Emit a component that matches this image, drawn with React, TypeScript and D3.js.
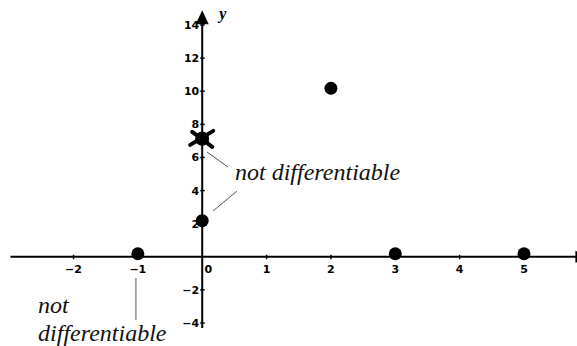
import React from "react";
import * as d3 from "d3";

const W = 577;
const H = 346;

// Data
const xTicks = [-2, -1, 1, 2, 3, 4, 5];
const yTicks = [-4, -2, 2, 4, 6, 8, 10, 12, 14];
const pointX = [-1, 0, 0, 2, 3, 5];
const pointY = [0, 2, 7, 10, 0, 0];
const crossedX = [0];
const crossedY = [7];

// Annotations (data units)
const noteLines = [
  { text: "not differentiable", x: 0.51, y: 4.64 },
  { text: "not", x: -2.55, y: -3.39 },
  { text: "differentiable", x: -2.55, y: -5.08 },
];
const leaders = [
  { x1: 0.075, y1: 6.33, x2: 0.4, y2: 5.42 },
  { x1: 0.17, y1: 2.77, x2: 0.54, y2: 3.97 },
  { x1: -1.03, y1: -1.28, x2: -1.03, y2: -3.82 },
];

export default function App() {
  const x = d3.scaleLinear().domain([-2, 5]).range([73.5, 524]);
  const y = d3.scaleLinear().domain([-4, 14]).range([323, 25]);
  const x0 = x(0);
  const y0 = y(0);
  const xMin = x(-2.98);
  const xMax = x(5.83);
  const yTop = y(14.1);
  const yBot = y(-4.3);

  const tickStyle = { fontFamily: '"DejaVu Sans", sans-serif', fontWeight: 700, fontSize: 11 };
  const serifStyle = { fontFamily: '"Liberation Serif", "Times New Roman", Times, serif', fontStyle: "italic" };

  return (
    <svg
      width={W}
      height={H}
      style={{ position: "absolute", left: 0, top: 0, background: "#fff" }}
    >
      {/* x axis */}
      <line x1={xMin} x2={xMax} y1={y0} y2={y0} stroke="#000" strokeWidth={2} />
      <polygon
        points={`${xMax - 2},${y0 - 6} ${xMax + 13},${y0} ${xMax - 2},${y0 + 6}`}
        fill="#000"
      />
      {/* y axis */}
      <line x1={x0} x2={x0} y1={yBot} y2={yTop} stroke="#000" strokeWidth={2} />
      <polygon
        points={`${x0 - 6.5},${yTop + 1} ${x0},${yTop - 13} ${x0 + 6.5},${yTop + 1}`}
        fill="#000"
      />
      <text x={x0 + 17} y={yTop - 4} style={{ ...serifStyle, fontWeight: 700, fontSize: 16 }}>
        y
      </text>

      {/* x ticks */}
      {xTicks.map((t) => (
        <g key={"xt" + t}>
          <line x1={x(t)} x2={x(t)} y1={y0 - 2} y2={y0 + 2.5} stroke="#000" strokeWidth={1.5} />
          <text x={x(t)} y={y0 + 16} textAnchor="middle" style={tickStyle}>
            {t < 0 ? "\u2212" + Math.abs(t) : t}
          </text>
        </g>
      ))}
      <text x={x0 + 6} y={y0 + 16} textAnchor="middle" style={tickStyle}>
        0
      </text>

      {/* y ticks */}
      {yTicks.map((t) => (
        <g key={"yt" + t}>
          <line x1={x0 - 2} x2={x0 + 2.5} y1={y(t)} y2={y(t)} stroke="#000" strokeWidth={1.5} />
          <text x={x0 - 3} y={y(t)} dy="0.36em" textAnchor="end" style={tickStyle}>
            {t < 0 ? "\u2212" + Math.abs(t) : t}
          </text>
        </g>
      ))}

      {/* leader lines */}
      {leaders.map((l, i) => (
        <line
          key={"ld" + i}
          x1={x(l.x1)}
          y1={y(l.y1)}
          x2={x(l.x2)}
          y2={y(l.y2)}
          stroke="#555"
          strokeWidth={1}
        />
      ))}

      {/* points */}
      {pointX.map((px, i) => (
        <circle key={"p" + i} cx={x(px)} cy={y(pointY[i]) - 3} r={6.5} fill="#000" />
      ))}

      {/* crossed point */}
      {crossedX.map((cx, i) => {
        const X = x(cx);
        const Y = y(crossedY[i]) - 2;
        return (
          <g key={"c" + i}>
            <line x1={X - 12} y1={Y + 6} x2={X + 11} y2={Y - 8} stroke="#000" strokeWidth={4} strokeLinecap="round" />
            <line x1={X - 10} y1={Y - 7} x2={X + 10} y2={Y + 8} stroke="#000" strokeWidth={4} strokeLinecap="round" />
            <circle cx={X} cy={Y} r={7} fill="#000" />
          </g>
        );
      })}

      {/* annotation text */}
      {noteLines.map((n, i) => (
        <text key={"n" + i} x={x(n.x)} y={y(n.y)} style={{ ...serifStyle, fontSize: 24 }} fill="#111">
          {n.text}
        </text>
      ))}
    </svg>
  );
}
